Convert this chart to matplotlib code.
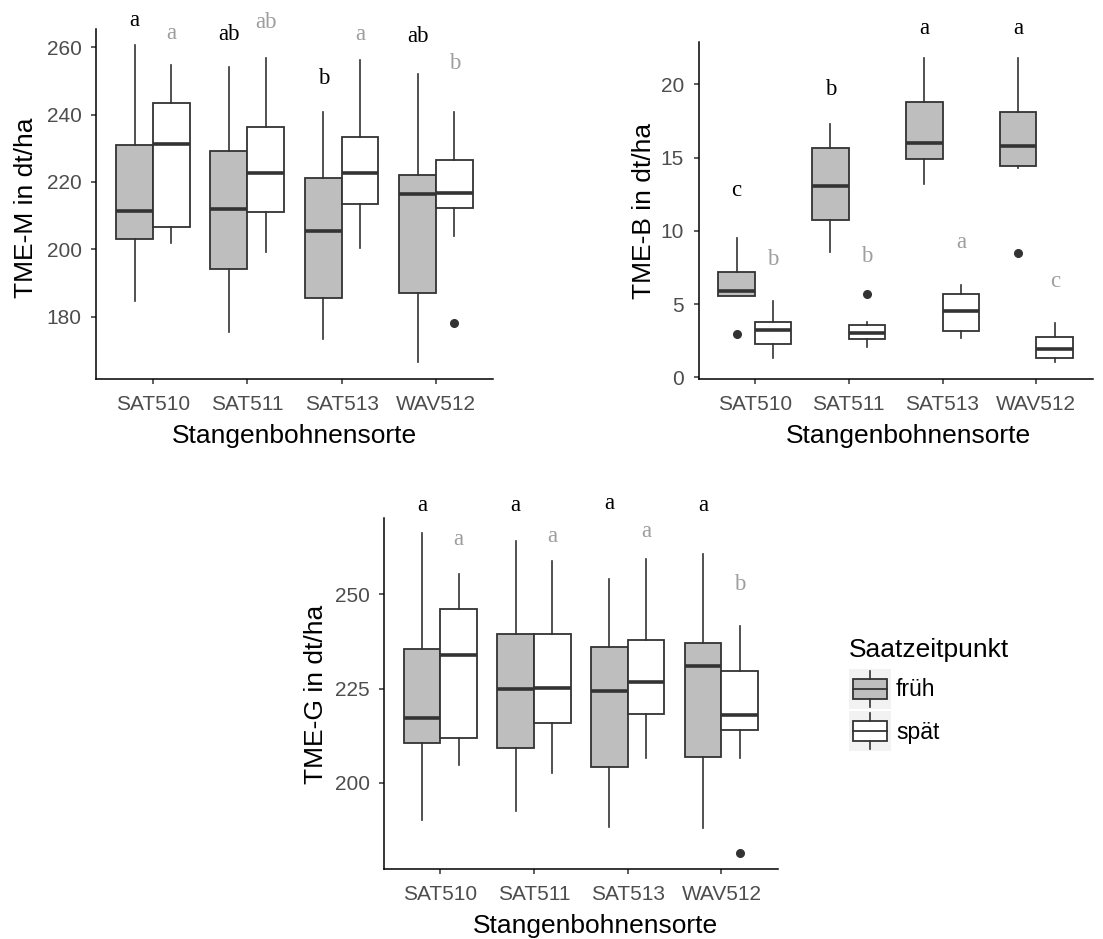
import matplotlib
matplotlib.use("Agg")
import matplotlib.pyplot as plt
from matplotlib.patches import Rectangle

sorten = ["SAT510", "SAT511", "SAT513", "WAV512"]

# five-number summaries per variety: lower whisker, Q1, median, Q3, upper whisker
tme_m_frueh = [[184.7, 203.2, 211.5, 230.9, 260.7],
               [175.5, 194.1, 212.0, 229.3, 254.2],
               [173.4, 185.5, 205.5, 221.3, 240.8],
               [166.6, 186.9, 216.3, 222.0, 252.1]]
tme_m_spaet = [[201.8, 206.7, 231.4, 243.4, 254.7],
               [199.1, 211.2, 222.8, 236.3, 256.9],
               [200.3, 213.4, 222.8, 233.3, 256.3],
               [204.0, 212.3, 216.8, 226.6, 240.7]]
tme_m_frueh_out = [[], [], [], []]
tme_m_spaet_out = [[], [], [], [178.0]]

tme_b_frueh = [[5.55, 5.55, 5.89, 7.21, 9.51],
               [8.57, 10.76, 13.08, 15.63, 17.31],
               [13.19, 14.88, 16.01, 18.81, 21.82],
               [14.27, 14.44, 15.81, 18.09, 21.82]]
tme_b_spaet = [[1.34, 2.25, 3.25, 3.80, 5.23],
               [2.09, 2.59, 3.05, 3.57, 3.80],
               [2.66, 3.18, 4.55, 5.69, 6.30],
               [1.02, 1.30, 1.95, 2.73, 3.71]]
tme_b_frueh_out = [[2.96], [], [], [8.51]]
tme_b_spaet_out = [[], [5.67], [], []]

tme_g_frueh = [[190.1, 210.5, 217.1, 235.5, 266.2],
               [192.6, 209.1, 224.8, 239.4, 264.1],
               [188.3, 204.2, 224.3, 236.1, 254.0],
               [187.9, 206.7, 231.0, 237.0, 260.6]]
tme_g_spaet = [[204.7, 212.0, 233.9, 246.2, 255.4],
               [202.7, 215.8, 225.2, 239.4, 258.8],
               [206.5, 218.2, 226.7, 237.9, 259.3],
               [206.5, 213.9, 218.0, 229.7, 241.6]]
tme_g_frueh_out = [[], [], [], []]
tme_g_spaet_out = [[], [], [], [181.3]]

# significance letters (Tukey groups) per sowing date
tme_m_letters_frueh = ["a", "ab", "b", "ab"]
tme_m_letters_spaet = ["a", "ab", "a", "b"]
tme_b_letters_frueh = ["c", "b", "a", "a"]
tme_b_letters_spaet = ["b", "b", "a", "c"]
tme_g_letters_frueh = ["a", "a", "a", "a"]
tme_g_letters_spaet = ["a", "a", "a", "b"]

saatzeit = ["früh", "spät"]

W, H = 1103, 939
plt.rcParams["font.family"] = ["Liberation Sans", "DejaVu Sans"]

EDGE = "#333333"
FILL = {"früh": "#BEBEBE", "spät": "#FFFFFF"}
LETTER_GREY = "#9E9E9E"

fig = plt.figure(figsize=(W / 100, H / 100), dpi=100)

# full-figure layer in pixel units, used for titles and the legend
lay = fig.add_axes([0, 0, 1, 1])
lay.set_xlim(0, W)
lay.set_ylim(H, 0)
lay.axis("off")


def px_rect(left, top, right, bottom):
    return [left / W, 1 - bottom / H, (right - left) / W, (bottom - top) / H]


def box_stats(summaries, outliers):
    return [dict(whislo=s[0], q1=s[1], med=s[2], q3=s[3], whishi=s[4], fliers=o)
            for s, o in zip(summaries, outliers)]


def draw_panel(rect, ylim, yticks, ylabel, frueh, spaet, frueh_out, spaet_out,
               let_frueh, let_spaet, let_y_frueh, let_y_spaet,
               xlab_pos, ylab_pos):
    ax = fig.add_axes(px_rect(*rect))
    ax.patch.set_alpha(0)
    pos = list(range(len(sorten)))
    off, wid = 0.195, 0.39
    for summ, outs, name, sign in [(frueh, frueh_out, "früh", -1),
                                   (spaet, spaet_out, "spät", 1)]:
        ax.bxp(box_stats(summ, outs), positions=[p + sign * off for p in pos],
               widths=wid, patch_artist=True, showcaps=False,
               boxprops=dict(facecolor=FILL[name], edgecolor=EDGE, linewidth=1.3),
               whiskerprops=dict(color=EDGE, linewidth=1.2),
               medianprops=dict(color=EDGE, linewidth=2.6, solid_capstyle="butt"),
               flierprops=dict(marker="o", markerfacecolor=EDGE,
                               markeredgecolor=EDGE, markersize=5.5))
    for i in pos:
        ax.text(i - off, let_y_frueh[i], let_frueh[i], ha="center", va="center",
                fontsize=16.5, family="Liberation Serif", color="black",
                clip_on=False)
        ax.text(i + off, let_y_spaet[i], let_spaet[i], ha="center", va="center",
                fontsize=16.5, family="Liberation Serif", color=LETTER_GREY,
                clip_on=False)
    ax.set_xlim(-0.6, len(sorten) - 0.4)
    ax.set_ylim(*ylim)
    ax.set_xticks(pos)
    ax.set_xticklabels(sorten)
    ax.set_yticks(yticks)
    for s in ["top", "right"]:
        ax.spines[s].set_visible(False)
    for s in ["left", "bottom"]:
        ax.spines[s].set_linewidth(1.1)
        ax.spines[s].set_color("black")
    ax.tick_params(axis="x", length=3.6, width=1.1, color=EDGE, pad=7.6,
                   labelsize=15, labelcolor="#4D4D4D")
    ax.tick_params(axis="y", length=3.6, width=1.1, color=EDGE, pad=6.8,
                   labelsize=15, labelcolor="#4D4D4D")
    ax.set_xlabel("Stangenbohnensorte", fontsize=19, va="baseline")
    ax.xaxis.set_label_coords(*xlab_pos, transform=lay.transData)
    ax.set_ylabel(ylabel, fontsize=19, va="baseline")
    ax.yaxis.set_label_coords(*ylab_pos, transform=lay.transData)
    return ax


draw_panel((96.3, 29.3, 492.6, 379.3), (161.4, 265.35), [180, 200, 220, 240, 260],
           "TME-M in dt/ha", tme_m_frueh, tme_m_spaet, tme_m_frueh_out, tme_m_spaet_out,
           tme_m_letters_frueh, tme_m_letters_spaet,
           [268.1, 263.7, 250.8, 263.1], [264.2, 267.3, 263.9, 255.2],
           (294.0, 443.3), (33.3, 207.5))

draw_panel((698.5, 42.3, 1092.7, 379.0), (-0.116, 22.87), [0, 5, 10, 15, 20],
           "TME-B in dt/ha", tme_b_frueh, tme_b_spaet, tme_b_frueh_out, tme_b_spaet_out,
           tme_b_letters_frueh, tme_b_letters_spaet,
           [12.74, 19.66, 23.82, 23.82], [8.05, 8.23, 9.19, 6.53],
           (908.7, 443.3), (650.7, 210.8))

draw_panel((384.0, 518.3, 777.7, 869.0), (177.1, 270.2), [200, 225, 250],
           "TME-G in dt/ha", tme_g_frueh, tme_g_spaet, tme_g_frueh_out, tme_g_spaet_out,
           tme_g_letters_frueh, tme_g_letters_spaet,
           [273.7, 273.7, 274.2, 273.7], [264.7, 265.3, 266.6, 252.5],
           (595.5, 933.0), (323.3, 694.0))

# legend for sowing date
lay.text(849.3, 650, "Saatzeitpunkt", fontsize=19, ha="left", va="center")
for k, name in enumerate(saatzeit):
    top = 669 + 42 * k
    lay.add_patch(Rectangle((849.3, top), 41.7, 40, facecolor="#F2F2F2",
                            edgecolor="none"))
    lay.plot([870, 870], [top + 2, top + 10], color=EDGE, lw=1.2)
    lay.plot([870, 870], [top + 30, top + 38], color=EDGE, lw=1.2)
    lay.add_patch(Rectangle((853.3, top + 10), 33.4, 20, facecolor=FILL[name],
                            edgecolor=EDGE, lw=1.3))
    lay.plot([853.3, 886.7], [top + 20, top + 20], color=EDGE, lw=1.3)
    lay.text(896, top + 21, name, fontsize=16.5, ha="left", va="center")

fig.savefig("out.png", dpi=100)
